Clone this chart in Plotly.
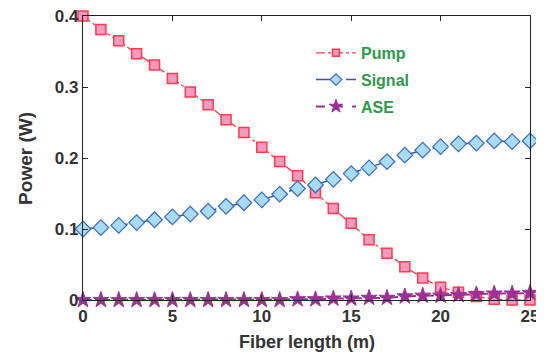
import plotly.graph_objects as go

length_m = list(range(26))
pump_w = [0.400, 0.381, 0.365, 0.347, 0.331, 0.312, 0.293, 0.275, 0.254, 0.236,
          0.215, 0.195, 0.175, 0.151, 0.129, 0.108, 0.085, 0.066, 0.047, 0.031,
          0.018, 0.011, 0.005, 0.001, 0.000, 0.000]
signal_w = [0.100, 0.102, 0.105, 0.109, 0.113, 0.117, 0.121, 0.125, 0.132, 0.137,
            0.141, 0.149, 0.157, 0.162, 0.170, 0.178, 0.186, 0.195, 0.204, 0.211,
            0.216, 0.220, 0.221, 0.224, 0.223, 0.224]
ase_w = [0.000, 0.000, 0.000, 0.000, 0.000, 0.000, 0.000, 0.000, 0.000, 0.000,
         0.000, 0.000, 0.001, 0.001, 0.002, 0.002, 0.003, 0.003, 0.005, 0.006,
         0.006, 0.007, 0.008, 0.009, 0.009, 0.010]
x_ticks = [0, 5, 10, 15, 20, 25]
y_ticks = [0, 0.1, 0.2, 0.3, 0.4]
y_tick_text = ["0", "0.1", "0.2", "0.3", "0.4"]

PUMP_LINE = "#ff3b4e"
PUMP_FILL = "#f29ac0"
SIG_LINE = "#3a55b0"
SIG_EDGE = "#3a6ac0"
SIG_FILL = "#a8dcf4"
ASE_COL = "#9b2f96"

FONT = "Arial, Liberation Sans, sans-serif"

fig = go.Figure()
series = [
    ("Pump", pump_w, dict(color=PUMP_LINE, width=1.3, dash="dashdot"), "square", 10, PUMP_FILL, PUMP_LINE, 1.5, 7),
    ("Signal", signal_w, dict(color=SIG_LINE, width=1.5, dash="longdash"), "diamond", 12, SIG_FILL, SIG_EDGE, 1.2, 9),
    ("ASE", ase_w, dict(color=ASE_COL, width=2, dash="dash"), "star", 12, ASE_COL, ASE_COL, 1, 10),
]
for name, vals, line, sym, size, fill, edge, ew, lsize in series:
    fig.add_trace(go.Scatter(
        x=length_m, y=vals, name=name, mode="lines+markers", showlegend=False,
        line=line,
        marker=dict(symbol=sym, size=size, color=fill, line=dict(color=edge, width=ew)),
        cliponaxis=False))
for name, vals, line, sym, size, fill, edge, ew, lsize in series:
    fig.add_trace(go.Scatter(
        x=[None], y=[None], name=name, legendgroup=name, mode="lines+markers",
        showlegend=True, line=line,
        marker=dict(symbol=sym, size=lsize, color=fill, line=dict(color=edge, width=ew))))

tick_font = dict(family=FONT, size=17, color="#333333", weight="bold")
title_font = dict(family=FONT, size=18, color="#333333", weight="bold")
# the page body adds an 8 px offset; the figure is sized so the plot area
# sits at x 83..530, y 16..300 in the 544x352 window
fig.update_layout(
    width=536, height=344,
    margin=dict(l=75, r=14, t=8, b=52),
    paper_bgcolor="white", plot_bgcolor="white",
    font=dict(family=FONT, size=15, color="#333333"),
    showlegend=True,
    legend=dict(x=0.51, y=0.93, xanchor="left", yanchor="top",
                bgcolor="rgba(0,0,0,0)",
                font=dict(family=FONT, size=16, color="#2e9a4a", weight="bold"),
                tracegroupgap=3, itemwidth=40),
    xaxis=dict(range=[0, 25], tickvals=x_ticks, automargin=False,
               ticks="inside", ticklen=5, tickwidth=1, tickcolor="#222",
               showline=True, linecolor="#222", linewidth=1.2, mirror="ticks",
               showgrid=False, zeroline=False, tickfont=tick_font,
               ticklabeloverflow="allow"),
    yaxis=dict(range=[0, 0.4], tickvals=y_ticks, ticktext=y_tick_text, automargin=False,
               ticks="inside", ticklen=5, tickwidth=1, tickcolor="#222",
               showline=True, linecolor="#222", linewidth=1.2, mirror="ticks",
               showgrid=False, zeroline=False, tickfont=tick_font,
               ticklabeloverflow="allow"),
    annotations=[
        dict(text="Fiber length (m)", xref="paper", yref="paper", x=0.5, y=-0.148,
             xanchor="center", yanchor="middle", showarrow=False, font=title_font),
        dict(text="Power (W)", xref="paper", yref="paper", x=-0.13, y=0.5,
             xanchor="center", yanchor="middle", textangle=-90, showarrow=False,
             font=dict(family=FONT, size=19, color="#333333", weight="bold")),
    ],
)

fig.write_html("out.html")
